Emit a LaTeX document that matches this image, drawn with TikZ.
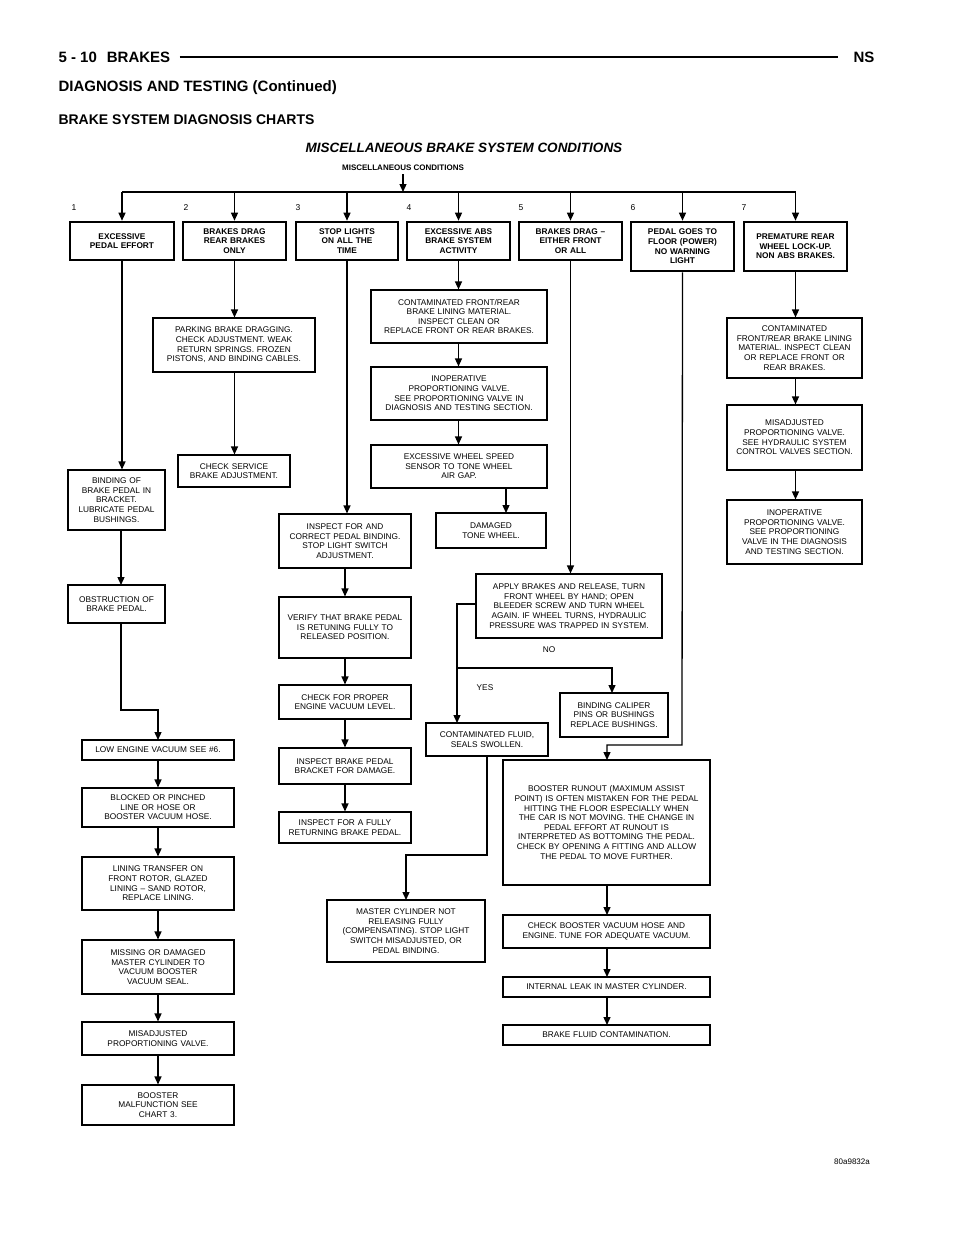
\documentclass[tikz,border=0pt]{standalone}
\usepackage{fontspec}
\setmainfont{Liberation Sans}
\usetikzlibrary{arrows.meta}
\tikzset{
 box/.style={draw,line width=1.1pt,inner xsep=3pt,inner ysep=0pt,align=center,font=\fontsize{8.3}{9.6}\selectfont},
 hbox/.style={box,line width=2.6pt,font=\bfseries\fontsize{8.3}{9.6}\selectfont},
 ln/.style={line width=1.3pt},
 arr/.style={ln,-{Triangle[length=8pt,width=7pt]}},
 num/.style={font=\fontsize{8.5}{10}\selectfont,anchor=west}
}
\newcommand\bx[7][box]{\pgfmathsetmacro\bw{#5-#3}\pgfmathsetmacro\bh{#6-#4}\pgfmathsetmacro\tw{#5-#3-6}\pgfmathsetmacro\cx{(#3+#5)/2}\pgfmathsetmacro\cy{(#4+#6)/2}\node[#1,minimum width=\bw pt,minimum height=\bh pt,text width=\tw pt] (#2) at (\cx,\cy) {#7};}
\begin{document}
\begin{tikzpicture}[x=1pt,y=-1pt]
\useasboundingbox[fill=white] (0,0) rectangle (960,1242);
% header
\node[anchor=west,font=\bfseries\fontsize{15}{17}\selectfont] (pg) at (55,57) {5 - 10\hspace{10pt}BRAKES};
\node[anchor=east,font=\bfseries\fontsize{15}{17}\selectfont] (ns) at (878,57) {NS};
\draw[line width=1.6pt] (pg.east) ++(6,0) coordinate (r1) -- (ns.west -| 838,0) coordinate (r2);
\draw[line width=1.6pt] (r1) -- (838,57);
\node[anchor=west,font=\bfseries\fontsize{15}{17}\selectfont] (dt) at (55,88) {DIAGNOSIS AND TESTING (Continued)};
\node[anchor=west,font=\bfseries\fontsize{14}{16}\selectfont] (bs) at (55,120) {BRAKE SYSTEM DIAGNOSIS CHARTS};
\node[font=\bfseries\itshape\fontsize{13.5}{16}\selectfont] (tt) at (464,148) {MISCELLANEOUS BRAKE SYSTEM CONDITIONS};
\node[font=\bfseries\fontsize{8}{9}\selectfont] (mc) at (403,168) {MISCELLANEOUS CONDITIONS};
\node[font=\fontsize{8}{9}\selectfont] (code) at (852,1162) {80a9832a};
% top row
\bx[hbox]{b1}{70}{222}{174}{260}{EXCESSIVE\\PEDAL EFFORT}
\bx[hbox]{b2}{183}{222}{286}{260}{BRAKES DRAG\\REAR BRAKES\\ONLY}
\bx[hbox]{b3}{296}{222}{398}{260}{STOP LIGHTS\\ON ALL THE\\TIME}
\bx[hbox]{b4}{407}{222}{510}{260}{EXCESSIVE ABS\\BRAKE SYSTEM\\ACTIVITY}
\bx[hbox]{b5}{519}{222}{622}{260}{BRAKES DRAG --\\EITHER FRONT\\OR ALL}
\bx[hbox]{b6}{631}{222}{734}{271}{PEDAL GOES TO\\FLOOR (POWER)\\NO WARNING\\LIGHT}
\bx[hbox]{b7}{744}{222}{847}{271}{PREMATURE REAR\\WHEEL LOCK-UP.\\NON ABS BRAKES.}
\foreach \i/\x in {1/68,2/180,3/292,4/403,5/515,6/627,7/738}{\node[num] (n\i) at (\x,208) {\i};}
\coordinate (bus) at (403,192);
\draw[arr] (mc.south) -- (bus);
\draw[ln] (b1.north |- bus) -- (b7.north |- bus);
\foreach \i in {1,...,7}{\draw[arr] (b\i.north |- bus) -- (b\i.north);}
% column 1
\bx{c1a}{68}{470}{165}{530}{BINDING OF\\BRAKE PEDAL IN\\BRACKET.\\LUBRICATE PEDAL\\BUSHINGS.}
\bx{c1b}{68}{585}{165}{623}{OBSTRUCTION OF\\BRAKE PEDAL.}
\bx{c1c}{82}{740}{234}{760}{LOW ENGINE VACUUM SEE \#6.}
\bx{c1d}{82}{788}{234}{827}{BLOCKED OR PINCHED\\LINE OR HOSE OR\\BOOSTER VACUUM HOSE.}
\bx{c1e}{82}{857}{234}{910}{LINING TRANSFER ON\\FRONT ROTOR, GLAZED\\LINING -- SAND ROTOR,\\REPLACE LINING.}
\bx{c1f}{82}{940}{234}{994}{MISSING OR DAMAGED\\MASTER CYLINDER TO\\VACUUM BOOSTER\\VACUUM SEAL.}
\bx{c1g}{82}{1022}{234}{1055}{MISADJUSTED\\PROPORTIONING VALVE.}
\bx{c1h}{82}{1085}{234}{1125}{BOOSTER\\MALFUNCTION SEE\\CHART 3.}
\draw[arr] (b1.south) -- (b1.south |- c1a.north);
\draw[arr] (c1a.south -| 121,0) -- (121,585);
\coordinate (k1) at (121,710);
\draw[arr] (121,623) -- (k1) -- (158,710) -- (158,740);
\draw[arr] (c1c.south) -- (c1d.north);
\draw[arr] (c1d.south) -- (c1e.north);
\draw[arr] (c1e.south) -- (c1f.north);
\draw[arr] (c1f.south) -- (c1g.north);
\draw[arr] (c1g.south) -- (c1h.north);
% column 2
\bx{c2a}{153}{318}{315}{372}{PARKING BRAKE DRAGGING.\\CHECK ADJUSTMENT. WEAK\\RETURN SPRINGS. FROZEN\\PISTONS, AND BINDING CABLES.}
\bx{c2b}{178}{455}{290}{487}{CHECK SERVICE\\BRAKE ADJUSTMENT.}
\draw[arr] (b2.south) -- (b2.south |- c2a.north);
\draw[arr] (b2.south |- c2a.south) -- (b2.south |- c2b.north);
% column 3
\bx{c3a}{279}{514}{411}{568}{INSPECT FOR AND\\CORRECT PEDAL BINDING.\\STOP LIGHT SWITCH\\ADJUSTMENT.}
\bx{c3b}{279}{597}{411}{658}{VERIFY THAT BRAKE PEDAL\\IS RETUNING FULLY TO\\RELEASED POSITION.}
\bx{c3c}{279}{685}{411}{719}{CHECK FOR PROPER\\ENGINE VACUUM LEVEL.}
\bx{c3d}{279}{748}{411}{784}{INSPECT BRAKE PEDAL\\BRACKET FOR DAMAGE.}
\bx{c3e}{279}{812}{411}{843}{INSPECT FOR A FULLY\\RETURNING BRAKE PEDAL.}
\draw[arr] (b3.south) -- (b3.south |- c3a.north);
\draw[arr] (c3a.south) -- (c3b.north);
\draw[arr] (c3b.south) -- (c3c.north);
\draw[arr] (c3c.south) -- (c3d.north);
\draw[arr] (c3d.south) -- (c3e.north);
% column 4
\bx{c4a}{371}{290}{547}{343}{CONTAMINATED FRONT/REAR\\BRAKE LINING MATERIAL.\\INSPECT CLEAN OR\\REPLACE FRONT OR REAR BRAKES.}
\bx{c4b}{371}{367}{547}{420}{INOPERATIVE\\PROPORTIONING VALVE.\\SEE PROPORTIONING VALVE IN\\DIAGNOSIS AND TESTING SECTION.}
\bx{c4c}{371}{445}{547}{488}{EXCESSIVE WHEEL SPEED\\SENSOR TO TONE WHEEL\\AIR GAP.}
\bx{c4d}{436}{513}{546}{548}{DAMAGED\\TONE WHEEL.}
\draw[arr] (b4.south) -- (b4.south |- c4a.north);
\draw[arr] (b4.south |- c4a.south) -- (b4.south |- c4b.north);
\draw[arr] (b4.south |- c4b.south) -- (b4.south |- c4c.north);
\draw[arr] (506,488) -- (506,513);
% column 5
\bx{c5a}{476}{574}{662}{638}{APPLY BRAKES AND RELEASE, TURN\\FRONT WHEEL BY HAND; OPEN\\BLEEDER SCREW AND TURN WHEEL\\AGAIN. IF WHEEL TURNS, HYDRAULIC\\PRESSURE WAS TRAPPED IN SYSTEM.}
\bx{c5b}{426}{723}{548}{756}{CONTAMINATED FLUID,\\SEALS SWOLLEN.}
\bx{c5c}{560}{693}{668}{737}{BINDING CALIPER\\PINS OR BUSHINGS\\REPLACE BUSHINGS.}
\bx{c5d}{327}{900}{485}{962}{MASTER CYLINDER NOT\\RELEASING FULLY\\(COMPENSATING). STOP LIGHT\\SWITCH MISADJUSTED, OR\\PEDAL BINDING.}
\draw[arr] (b5.south) -- (b5.south |- c5a.north);
\draw[arr] (c5a.west |- 0,604) -- (457,604) -- (457,723);
\draw[arr] (457,668) -- (612,668) -- (612,693);
\node[box,draw=none] (no) at (549,650) {NO};
\node[box,draw=none] (yes) at (485,688) {YES};
\draw[arr] (487,756) -- (487,855) -- (406,855) -- (406,900);
% column 6
\bx{c6a}{503}{760}{710}{885}{BOOSTER RUNOUT (MAXIMUM ASSIST\\POINT) IS OFTEN MISTAKEN FOR THE PEDAL\\HITTING THE FLOOR ESPECIALLY WHEN\\THE CAR IS NOT MOVING. THE CHANGE IN\\PEDAL EFFORT AT RUNOUT IS\\INTERPRETED AS BOTTOMING THE PEDAL.\\CHECK BY OPENING A FITTING AND ALLOW\\THE PEDAL TO MOVE FURTHER.}
\bx{c6b}{503}{915}{710}{948}{CHECK BOOSTER VACUUM HOSE AND\\ENGINE. TUNE FOR ADEQUATE VACUUM.}
\bx{c6c}{503}{977}{710}{997}{INTERNAL LEAK IN MASTER CYLINDER.}
\bx{c6d}{503}{1025}{710}{1045}{BRAKE FLUID CONTAMINATION.}
\draw[arr] (b6.south) -- (682,745) -- (607,745) -- (607,760);
\draw[arr] (607,885) -- (607,915);
\draw[arr] (607,948) -- (607,977);
\draw[arr] (607,997) -- (607,1025);
% column 7
\bx{c7a}{727}{318}{862}{378}{CONTAMINATED\\FRONT/REAR BRAKE LINING\\MATERIAL. INSPECT CLEAN\\OR REPLACE FRONT OR\\REAR BRAKES.}
\bx{c7b}{727}{405}{862}{470}{MISADJUSTED\\PROPORTIONING VALVE.\\SEE HYDRAULIC SYSTEM\\CONTROL VALVES SECTION.}
\bx{c7c}{727}{500}{862}{564}{INOPERATIVE\\PROPORTIONING VALVE.\\SEE PROPORTIONING\\VALVE IN THE DIAGNOSIS\\AND TESTING SECTION.}
\draw[arr] (b7.south) -- (b7.south |- c7a.north);
\draw[arr] (b7.south |- c7a.south) -- (b7.south |- c7b.north);
\draw[arr] (b7.south |- c7b.south) -- (b7.south |- c7c.north);
\end{tikzpicture}
\end{document}
